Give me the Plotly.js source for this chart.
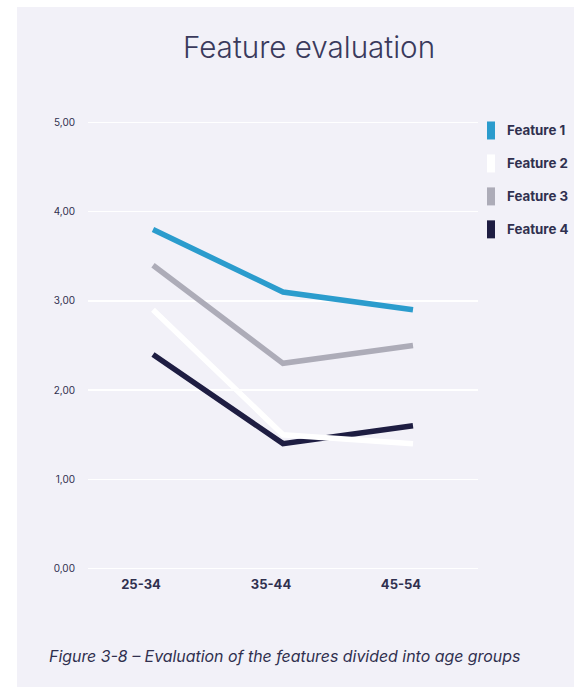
<!DOCTYPE html>
<html>
<head>
<meta charset="utf-8">
<script src="https://cdn.plot.ly/plotly-3.0.1.min.js"></script>
<style>
html,body{margin:0;padding:0;background:#ffffff;}
#chart{position:absolute;left:17px;top:7px;width:557px;height:680px;}
</style>
</head>
<body>
<div id="chart"></div>
<script>
const ageGroups = ['25-34', '35-44', '45-54'];
const seriesNames = ['Feature 1', 'Feature 2', 'Feature 3', 'Feature 4'];
const feature1 = [3.8, 3.1, 2.9];
const feature2 = [2.9, 1.5, 1.4];
const feature3 = [3.4, 2.3, 2.5];
const feature4 = [2.4, 1.4, 1.6];
const yTickVals = [0, 1, 2, 3, 4, 5];
const titleText = 'Feature evaluation';
const captionText = 'Figure 3-8 \u2013 Evaluation of the features divided into age groups';

const seriesValues = [feature1, feature2, feature3, feature4];
const colors = ['#2b9ccd', '#ffffff', '#adacb8', '#1e1d42'];
const textColor = '#30304f';
const font = 'Inter, "Noto Sans", sans-serif';

// plot area in div pixels: top 110.5, bottom 566.1, height 455.6
const plotTop = 110.5, plotH = 455.6;
const py = yPix => (plotTop + plotH - yPix) / plotH;

// draw order: gray, blue, dark, white on top
const order = [2, 0, 3, 1];
const traces = order.map(i => ({
  type: 'scatter',
  mode: 'lines',
  name: seriesNames[i],
  x: ageGroups,
  y: seriesValues[i],
  line: {color: colors[i], width: 5.5},
  showlegend: false
}));

const shapes = [];
const annotations = [];
seriesNames.forEach((n, i) => {
  const yc = py(123 + i * 33);
  shapes.push({
    type: 'rect', xref: 'paper', yref: 'paper',
    xsizemode: 'pixel', ysizemode: 'pixel',
    xanchor: 1, yanchor: yc,
    x0: 9, x1: 17, y0: -9, y1: 9,
    fillcolor: colors[i], line: {width: 0}
  });
  annotations.push({
    xref: 'paper', yref: 'paper', x: 1.069, y: yc,
    xanchor: 'left', yanchor: 'middle', showarrow: false,
    text: '<b>' + n + '</b>',
    font: {family: font, size: 13.3, color: textColor}
  });
});
annotations.push({
  xref: 'paper', yref: 'paper', x: -0.105, y: py(650),
  xanchor: 'left', yanchor: 'middle', showarrow: false,
  text: '<i>' + captionText + '</i>',
  font: {family: font, size: 15.9, color: textColor}
});

const layout = {
  width: 557, height: 680,
  paper_bgcolor: '#f2f1f8', plot_bgcolor: '#f2f1f8',
  margin: {l: 71, r: 96, t: 110.5, b: 113.9},
  separators: ',.',
  title: {
    text: titleText, xref: 'container', yref: 'container',
    x: 292 / 557, xanchor: 'center', y: 1 - 41 / 680, yanchor: 'middle',
    font: {family: font, size: 29.6, weight: 300, color: '#3a3a5c'}
  },
  xaxis: {
    type: 'category', range: [-0.5, 2.5],
    showgrid: false, zeroline: false, showline: false, ticks: '',
    ticklabelshift: -12, ticklabelstandoff: 2,
    tickfont: {family: font, size: 13, weight: 700, color: textColor}
  },
  yaxis: {
    range: [-0.05, 5.05], tickvals: yTickVals, tickformat: '.2f',
    showgrid: true, gridcolor: '#ffffff', gridwidth: 1.5,
    zeroline: true, zerolinecolor: '#ffffff', zerolinewidth: 1.5,
    showline: false, ticks: '',
    ticklabelstandoff: 12,
    tickfont: {family: font, size: 10, color: textColor}
  },
  shapes: shapes,
  annotations: annotations
};

Plotly.newPlot('chart', traces, layout, {displayModeBar: false, staticPlot: true});
</script>
</body>
</html>
